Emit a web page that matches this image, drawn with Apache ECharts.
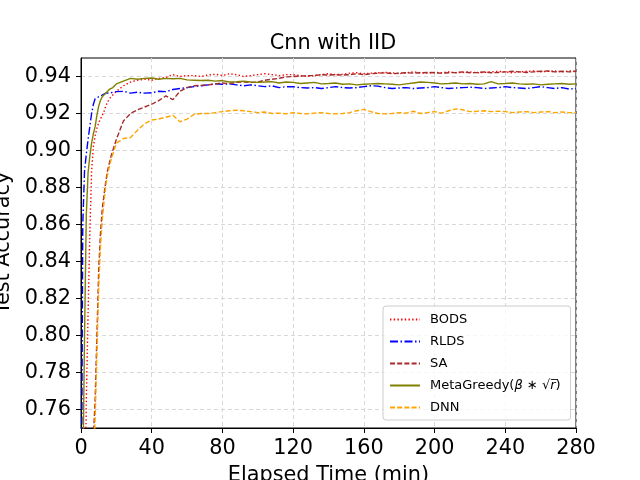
<!DOCTYPE html>
<html>
<head>
<meta charset="utf-8">
<script src="https://cdn.jsdelivr.net/npm/echarts@6/dist/echarts.min.js"></script>
<style>
html, body { margin: 0; padding: 0; background: #fff; }
#chart { width: 640px; height: 480px; }
</style>
</head>
<body>
<div id="chart"></div>
<script>
// elapsed time (min)
var times = [0, 1, 2, 3, 4, 5, 6, 7, 8, 9, 10, 11, 12, 13, 14, 15, 16, 17, 18, 19, 20,
	24, 28, 32, 36, 40, 44, 48, 52, 56, 60,
	64, 68, 72, 76, 80, 84, 88, 92, 96, 100,
	104, 108, 112, 116, 120, 124, 128, 132, 136, 140,
	144, 148, 152, 156, 160, 164, 168, 172, 176, 180,
	184, 188, 192, 196, 200, 204, 208, 212, 216, 220,
	224, 228, 232, 236, 240, 244, 248, 252, 256, 260,
	264, 268, 272, 276, 280];

var bods = [0.30, 0.50, 0.68, 0.765, 0.812, 0.855, 0.889, 0.902, 0.908, 0.912, 0.915, 0.917, 0.919, 0.921, 0.924, 0.926, 0.928, 0.929, 0.930, 0.931, 0.932,
	0.935, 0.937, 0.938, 0.9385, 0.938, 0.939, 0.9395, 0.941, 0.940, 0.9405,
	0.9405, 0.940, 0.9408, 0.9412, 0.9405, 0.9415, 0.941, 0.940, 0.9405, 0.941,
	0.9415, 0.941, 0.9405, 0.941, 0.941, 0.9405, 0.940, 0.9405, 0.941, 0.9415,
	0.941, 0.9412, 0.9418, 0.942, 0.9415, 0.9418, 0.942, 0.9422, 0.942, 0.9415,
	0.942, 0.9425, 0.942, 0.9418, 0.9422, 0.942, 0.9425, 0.942, 0.9422, 0.9425,
	0.942, 0.9422, 0.9425, 0.9428, 0.9425, 0.942, 0.9425, 0.9428, 0.943, 0.9425,
	0.9428, 0.943, 0.9425, 0.943, 0.9428];

var rlds = [0.65, 0.86, 0.889, 0.898, 0.906, 0.913, 0.920, 0.925, 0.928, 0.9285, 0.929, 0.9295, 0.930, 0.9305, 0.931, 0.9312, 0.931, 0.9318, 0.9315, 0.932, 0.9318,
	0.932, 0.931, 0.9315, 0.931, 0.9312, 0.932, 0.9318, 0.933, 0.9335, 0.934,
	0.9345, 0.935, 0.9355, 0.936, 0.9358, 0.936, 0.9355, 0.935, 0.9355, 0.935,
	0.9345, 0.935, 0.934, 0.9345, 0.9345, 0.934, 0.9338, 0.934, 0.9335, 0.934,
	0.9345, 0.934, 0.9338, 0.934, 0.9345, 0.935, 0.9348, 0.934, 0.9335, 0.9338,
	0.934, 0.9335, 0.9338, 0.934, 0.9345, 0.934, 0.9335, 0.9338, 0.934, 0.9342,
	0.934, 0.9335, 0.9338, 0.934, 0.9345, 0.934, 0.9338, 0.9335, 0.934, 0.9345,
	0.934, 0.9335, 0.934, 0.9332, 0.9335];

var sa = [0.20, 0.30, 0.40, 0.50, 0.60, 0.68, 0.72, 0.745, 0.765, 0.80, 0.835, 0.855, 0.868, 0.876, 0.883, 0.889, 0.893, 0.897, 0.900, 0.903, 0.906,
	0.916, 0.920, 0.922, 0.9235, 0.925, 0.927, 0.9295, 0.9275, 0.932, 0.934,
	0.935, 0.9352, 0.9355, 0.936, 0.9365, 0.9362, 0.9368, 0.937, 0.9368, 0.937,
	0.938, 0.9385, 0.939, 0.9398, 0.940, 0.9402, 0.9405, 0.9405, 0.941, 0.9408,
	0.941, 0.9408, 0.941, 0.9415, 0.941, 0.9415, 0.9418, 0.942, 0.9415, 0.9418,
	0.942, 0.9418, 0.942, 0.9422, 0.942, 0.9418, 0.942, 0.9422, 0.9425, 0.942,
	0.9422, 0.9425, 0.942, 0.9422, 0.9425, 0.9428, 0.9425, 0.9422, 0.9425, 0.9428,
	0.943, 0.9425, 0.9428, 0.9425, 0.9428];

var metaGreedy = [0.50, 0.72, 0.80, 0.865, 0.888, 0.897, 0.904, 0.909, 0.913, 0.919, 0.924, 0.927, 0.929, 0.930, 0.931, 0.932, 0.933, 0.9335, 0.934, 0.935, 0.936,
	0.9375, 0.939, 0.9385, 0.939, 0.9392, 0.9385, 0.939, 0.9388, 0.939, 0.9382,
	0.938, 0.9378, 0.938, 0.9375, 0.9378, 0.937, 0.9372, 0.9375, 0.937, 0.9368,
	0.937, 0.9372, 0.9365, 0.937, 0.9368, 0.9362, 0.9365, 0.9368, 0.936, 0.9362,
	0.9365, 0.9358, 0.936, 0.9355, 0.9358, 0.936, 0.9362, 0.936, 0.9358, 0.9355,
	0.936, 0.9365, 0.937, 0.9368, 0.9365, 0.936, 0.9362, 0.9365, 0.936, 0.9362,
	0.9358, 0.936, 0.9372, 0.936, 0.9362, 0.9365, 0.936, 0.9358, 0.936, 0.9355,
	0.9358, 0.936, 0.9362, 0.9358, 0.936];

var dnn = [0.15, 0.25, 0.35, 0.45, 0.55, 0.63, 0.69, 0.73, 0.755, 0.79, 0.825, 0.848, 0.862, 0.872, 0.881, 0.887, 0.891, 0.895, 0.898, 0.901, 0.904,
	0.9065, 0.907, 0.911, 0.9145, 0.9165, 0.917, 0.918, 0.919, 0.9155, 0.917,
	0.9195, 0.920, 0.920, 0.9205, 0.921, 0.9215, 0.9218, 0.9215, 0.921, 0.9205,
	0.9208, 0.920, 0.9202, 0.9198, 0.9205, 0.920, 0.9198, 0.9202, 0.9205, 0.920,
	0.9198, 0.920, 0.9205, 0.9215, 0.9222, 0.921, 0.920, 0.9198, 0.920, 0.9205,
	0.9202, 0.9212, 0.920, 0.9205, 0.921, 0.9202, 0.9215, 0.9225, 0.922, 0.921,
	0.9212, 0.9215, 0.921, 0.9212, 0.921, 0.9205, 0.9208, 0.921, 0.9205, 0.9208,
	0.921, 0.9205, 0.9208, 0.9205, 0.9205];

var xTicks = [0, 40, 80, 120, 160, 200, 240, 280];
var yTicks = [0.76, 0.78, 0.80, 0.82, 0.84, 0.86, 0.88, 0.90, 0.92, 0.94];

var FONT = 'DejaVu Sans';

function pairs(vals) {
	return times.map(function (t, i) { return [t, vals[i]]; });
}

function mkSeries(name, vals, color, dash) {
	return {
		name: name,
		type: 'line',
		data: pairs(vals),
		symbol: 'none',
		clip: true,
		animation: false,
		lineStyle: { color: color, width: 1.4, type: dash },
		itemStyle: { color: color }
	};
}

var chart = echarts.init(document.getElementById('chart'));

var option = {
	backgroundColor: '#fff',
	animation: false,
	title: {
		text: 'Cnn with IID',
		left: 328,
		top: 28,
		textAlign: 'center',
		textStyle: { fontFamily: FONT, fontSize: 20.8, fontWeight: 'normal', color: '#000' }
	},
	grid: {
		left: 81, right: 64, top: 58, bottom: 52,
		outerBoundsMode: 'none',
		containLabel: false,
		show: true, borderColor: '#000', borderWidth: 1
	},
	legend: {
		orient: 'vertical',
		left: 383,
		top: 306,
		padding: [7, 10, 6, 6],
		itemGap: 9,
		itemWidth: 30,
		itemHeight: 12,
		itemStyle: { opacity: 0 },
		backgroundColor: 'rgba(255,255,255,0.8)',
		borderColor: '#cccccc',
		borderWidth: 1,
		borderRadius: 3,
		textStyle: {
			fontFamily: FONT, fontSize: 13, color: '#000', padding: [0, 0, 0, 5],
			rich: {
				n: { fontFamily: FONT, fontSize: 13, color: '#000' },
				i: { fontFamily: FONT, fontSize: 13, color: '#000', fontStyle: 'italic' }
			}
		},
		formatter: function (name) {
			if (name.indexOf('MetaGreedy') === 0) {
				return '{n|MetaGreedy(}{i|β}{n| ∗ √}{i|r\u0305}{n|)}';
			}
			return name;
		},
		data: ['BODS', 'RLDS', 'SA', 'MetaGreedy(β*√r)', 'DNN']
	},
	xAxis: {
		type: 'value',
		min: 0,
		max: 280,
		interval: 40,
		name: 'Elapsed Time (min)',
		nameLocation: 'middle',
		nameGap: 37,
		nameTextStyle: { fontFamily: FONT, fontSize: 20.8, color: '#000' },
		axisLine: { show: true, lineStyle: { color: '#000', width: 1 } },
		axisTick: { show: true, inside: false, length: 5, lineStyle: { color: '#000' }, customValues: xTicks },
		axisLabel: { fontFamily: FONT, fontSize: 20.8, color: '#000', margin: 10, customValues: xTicks },
		splitLine: { show: true, lineStyle: { color: '#d8d8d8', type: [4, 3], width: 1 } }
	},
	yAxis: {
		type: 'value',
		min: 0.75,
		max: 0.95,
		name: 'Test Accuracy',
		nameLocation: 'middle',
		nameGap: 62,
		nameTextStyle: { fontFamily: FONT, fontSize: 20.8, color: '#000' },
		axisLine: { show: true, lineStyle: { color: '#000', width: 1 } },
		axisTick: { show: true, inside: false, length: 5, lineStyle: { color: '#000' }, customValues: yTicks },
		axisLabel: {
			fontFamily: FONT, fontSize: 20.8, color: '#000', margin: 10, customValues: yTicks,
			formatter: function (v) { return v.toFixed(2); }
		},
		splitLine: { show: true, lineStyle: { color: '#d8d8d8', type: [4, 3], width: 1 } }
	},
	series: [
		mkSeries('BODS', bods, '#ff0000', [1.4, 2.3]),
		mkSeries('RLDS', rlds, '#0000ff', [8, 2.5, 1.5, 2.5]),
		mkSeries('SA', sa, '#a52a2a', [5, 2.2]),
		mkSeries('MetaGreedy(β*√r)', metaGreedy, '#808000', 'solid'),
		mkSeries('DNN', dnn, '#ffa500', [5, 2.2])
	]
};

chart.setOption(option);

window.addEventListener('resize', function () {
	chart.resize();
});
</script>
</body>
</html>
